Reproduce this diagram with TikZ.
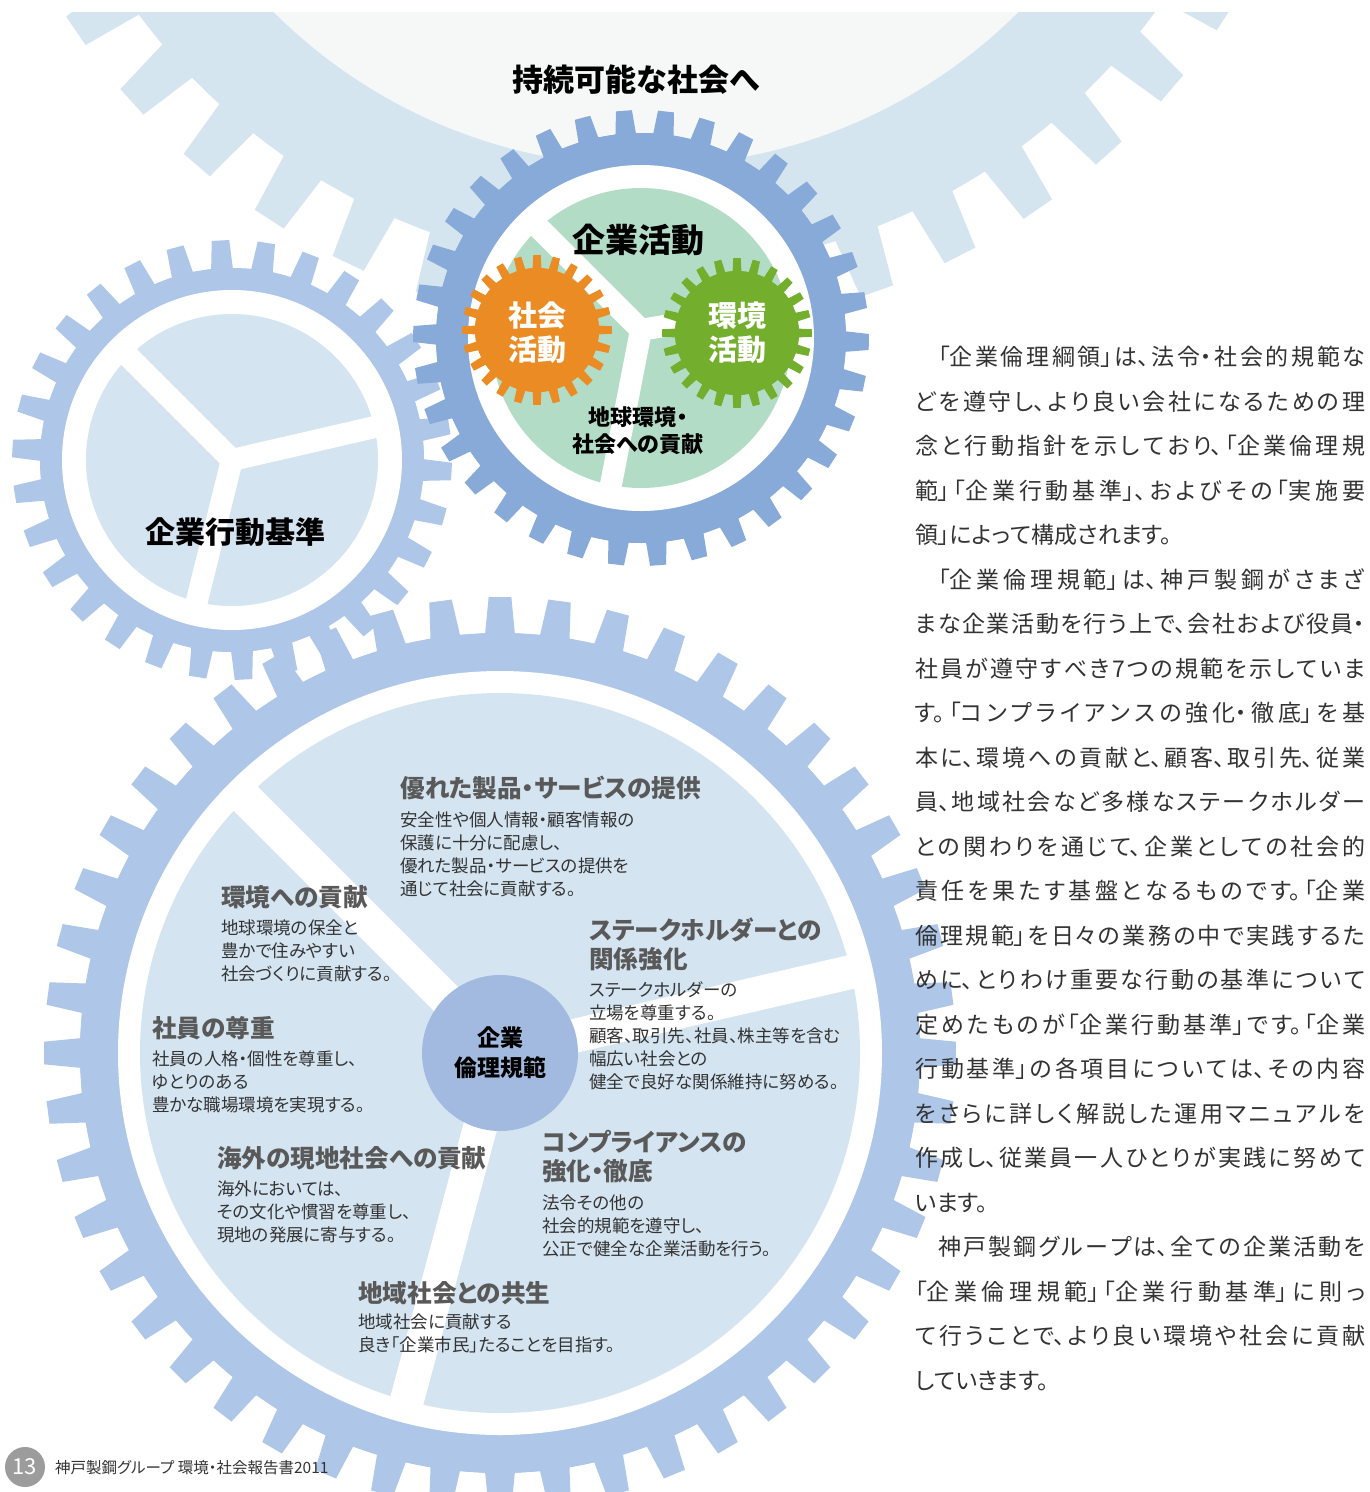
\documentclass[tikz,border=0pt]{standalone}
\usepackage{fontspec}
\setmainfont[RawFeature=+palt]{Noto Sans CJK JP}
\usepackage{tikz}

\definecolor{toppale}{HTML}{D5E5F0}
\definecolor{topdisc}{HTML}{F6F8F7}
\definecolor{gearblue}{HTML}{AEC6E8}
\definecolor{discpale}{HTML}{D4E4F0}
\definecolor{midblue}{HTML}{88AAD8}
\definecolor{hubblue}{HTML}{A2BADF}
\definecolor{sectgreen}{HTML}{B2DCC6}
\definecolor{gearorange}{HTML}{EA8B23}
\definecolor{geargreen}{HTML}{73AF2D}
\definecolor{headgray}{HTML}{595959}
\definecolor{textgray}{HTML}{333333}
\definecolor{pagegray}{HTML}{9C9C9C}

% gear body with teeth: centre, teeth, root radius, tip radius, phase, colour
\newcommand{\gearshape}[6]{%
  \pgfmathsetmacro\gpitch{360/#2}%
  \pgfmathsetmacro\gbase{0.27*\gpitch}%
  \pgfmathsetmacro\gtip{0.19*\gpitch}%
  \fill[#6] (#1) circle[radius=#3];
  \fill[#6, shift={(#1)}] ({#5+\gpitch-\gbase}:#3)
    \foreach \k in {1,...,#2} {
      -- ({#5+\k*\gpitch-\gbase}:#3) -- ({#5+\k*\gpitch-\gtip}:#4)
      -- ({#5+\k*\gpitch+\gtip}:#4) -- ({#5+\k*\gpitch+\gbase}:#3)
    } -- cycle;
}

\begin{document}
\begin{tikzpicture}[x=1pt, y=-1pt, inner sep=0pt,
    spoke/.style={draw=white, line width=#1pt},
    label/.style={font=\bfseries\fontsize{#1}{#1}\selectfont},
    heading/.style={anchor=west, align=left, text=headgray,
      font=\bfseries\fontsize{24.6}{29}\selectfont},
    body/.style={anchor=west, align=left, text=textgray,
      font=\fontsize{17.5}{23}\selectfont}]
    \useasboundingbox (0,0) rectangle (1369,1492);
    \fill[white] (0,0) rectangle (1369,1492);

    % big gear at the top
    \begin{scope}
        \clip (0,12) rectangle (1369,1492);
        \gearshape{646,-361}{48}{631}{692}{3}{toppale}
        \fill[topdisc] (646,-361) circle[radius=527];
    \end{scope}

    % left gear
    \gearshape{232,460}{30}{192}{220}{3}{gearblue}
    \fill[white] (232,460) circle[radius=170];
    \fill[discpale] (232,460) circle[radius=146];
    \foreach \a in {225,347,104}
        \draw[spoke=22] (232,460) -- ++(\a:160);

    % lower gear
    \gearshape{500,1053}{48}{420}{456}{0}{gearblue}
    \fill[white] (500,1053) circle[radius=382];
    \fill[discpale] (500,1053) circle[radius=360];
    \foreach \a in {225,347,105}
        \draw[spoke=34] (500,1053) -- ++(\a:375);
    \fill[hubblue] (500,1053) circle[radius=78];

    % middle gear
    \gearshape{641,338}{34}{205}{228}{1}{midblue}
    \fill[white] (641,338) circle[radius=173];
    \fill[sectgreen] (641,338) circle[radius=150];
    \foreach \a in {225,350,101}
        \draw[spoke=22] (641,330) -- ++(\a:165);
    \gearshape{537,330}{24}{62}{75}{0}{gearorange}
    \gearshape{737,333}{24}{62}{75}{0}{geargreen}

    % labels on the gears
    \node[label=31] (goal) at (636,80) {持続可能な社会へ};
    \node[label=33] (corp) at (638,240) {企業活動};
    \node[label=29, white, align=center, font=\bfseries\fontsize{29}{34}\selectfont] (social) at (537,333) {社会\\活動};
    \node[label=29, white, align=center, font=\bfseries\fontsize{29}{34}\selectfont] (envir) at (737,333) {環境\\活動};
    \node[align=center, font=\bfseries\fontsize{22}{27}\selectfont] (contrib) at (638,431) {地球環境・\\社会への貢献};
    \node[label=30] (conduct) at (235,532) {企業行動基準};
    \node[align=center, font=\bfseries\fontsize{23}{30}\selectfont] (ethics) at (500,1053) {企業\\倫理規範};

    % the seven items of the code
    \node[heading] (prodh) at (400,788) {優れた製品・サービスの提供};
    \node[body] (prodb) at (400,854.5) {安全性や個人情報・顧客情報の\\保護に十分に配慮し、\\優れた製品・サービスの提供を\\通じて社会に貢献する。};
    \node[heading] (envh) at (221,897) {環境への貢献};
    \node[body] (envb) at (221,951) {地球環境の保全と\\豊かで住みやすい\\社会づくりに貢献する。};
    \node[heading] (stakeh) at (589,944) {ステークホルダーとの\\関係強化};
    \node[body] (stakeb) at (589,1036) {ステークホルダーの\\立場を尊重する。\\顧客、取引先、社員、株主等を含む\\幅広い社会との\\健全で良好な関係維持に努める。};
    \node[heading] (staffh) at (152,1028) {社員の尊重};
    \node[body] (staffb) at (152,1082) {社員の人格・個性を尊重し、\\ゆとりのある\\豊かな職場環境を実現する。};
    \node[heading] (comph) at (542,1157) {コンプライアンスの\\強化・徹底};
    \node[body] (compb) at (542,1226) {法令その他の\\社会的規範を遵守し、\\公正で健全な企業活動を行う。};
    \node[heading] (abroadh) at (217,1158) {海外の現地社会への貢献};
    \node[body] (abroadb) at (217,1212) {海外においては、\\その文化や慣習を尊重し、\\現地の発展に寄与する。};
    \node[heading] (localh) at (358,1293) {地域社会との共生};
    \node[body] (localb) at (358,1333.5) {地域社会に貢献する\\良き「企業市民」たることを目指す。};

    % text column on the right
    \node[anchor=north west, text width=450pt, align=justify, text=textgray,
          font=\fontsize{23}{44.5}\selectfont] (column) at (915,346) {%
        \XeTeXlinebreaklocale "ja"\XeTeXlinebreakskip=0pt plus 4pt\relax
        \parindent=0pt\parskip=0pt\tolerance=10000
        \hspace*{1em}「企業倫理綱領」は、法令・社会的規範な\linebreak
        どを遵守し、より良い会社になるための理\linebreak
        念と行動指針を示しており、「企業倫理規\linebreak
        範」「企業行動基準」、およびその「実施要\linebreak
        領」によって構成されます。\par
        \hspace*{1em}「企業倫理規範」は、神戸製鋼がさまざ\linebreak
        まな企業活動を行う上で、会社および役員・\linebreak
        社員が遵守すべき7つの規範を示していま\linebreak
        す。「コンプライアンスの強化・徹底」を基\linebreak
        本に、環境への貢献と、顧客、取引先、従業\linebreak
        員、地域社会など多様なステークホルダー\linebreak
        との関わりを通じて、企業としての社会的\linebreak
        責任を果たす基盤となるものです。「企業\linebreak
        倫理規範」を日々の業務の中で実践するた\linebreak
        めに、とりわけ重要な行動の基準について\linebreak
        定めたものが「企業行動基準」です。「企業\linebreak
        行動基準」の各項目については、その内容\linebreak
        をさらに詳しく解説した運用マニュアルを\linebreak
        作成し、従業員一人ひとりが実践に努めて\linebreak
        います。\par
        \hspace*{1em}神戸製鋼グループは、全ての企業活動を\linebreak
        「企業倫理規範」「企業行動基準」に則っ\linebreak
        て行うことで、より良い環境や社会に貢献\linebreak
        していきます。};

    % page footer
    \node[circle, fill=pagegray, minimum size=40pt, text=white,
          font=\fontsize{22}{22}\selectfont] (pageno) at (25,1467) {13};
    \node[anchor=west, text=textgray, font=\fontsize{15.5}{17}\selectfont] (footer) at (55,1468) {神戸製鋼グループ 環境・社会報告書2011};
\end{tikzpicture}
\end{document}
